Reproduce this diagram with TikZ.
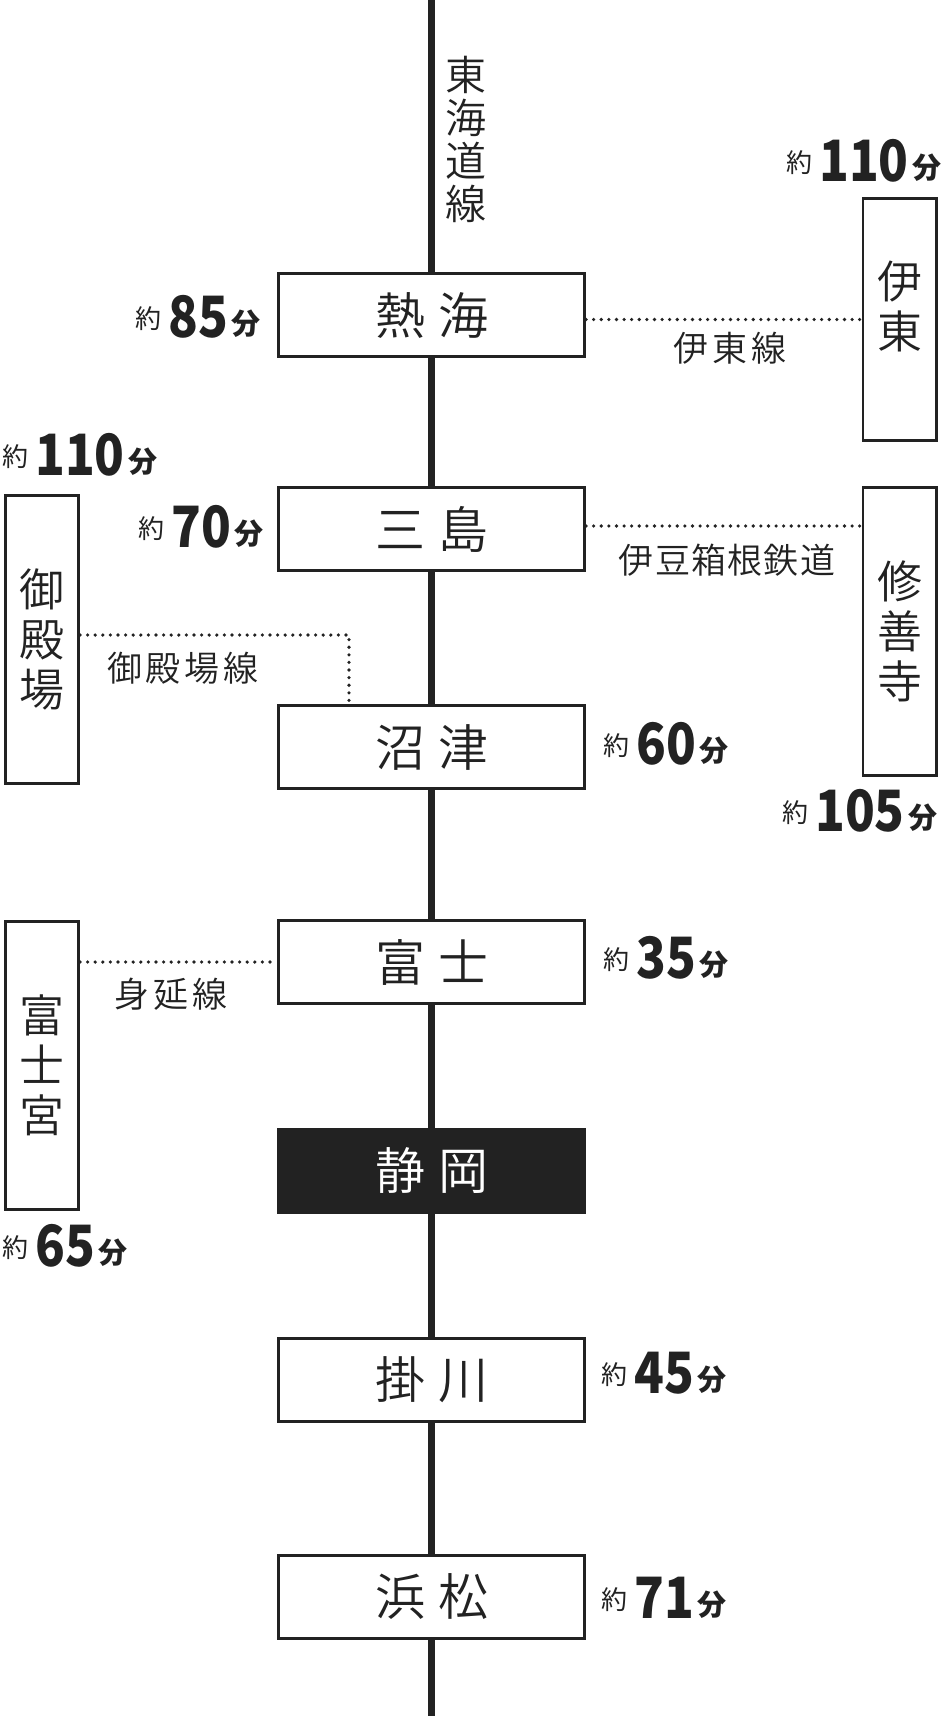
\documentclass[tikz,border=0pt]{standalone}
\usepackage{fontspec}
\setmainfont{Noto Sans CJK JP}
\newfontfamily\thinjp{Noto Sans CJK JP DemiLight}
\definecolor{ink}{HTML}{222222}
\newcommand\ls{\hspace{4pt}}
\newcommand\lsn{\hspace{1.3pt}}
\newcommand\stsp{\hspace{13pt}}
\newcommand\mins[1]{\raisebox{9pt}{\fontsize{26}{26}\selectfont 約}\hspace{7pt}\scalebox{0.86}[1]{\fontsize{57}{57}\selectfont\bfseries #1}\hspace{4pt}\raisebox{3pt}{\fontsize{29}{29}\selectfont\bfseries 分}}
\tikzset{
  station/.style={draw=ink, line width=2.6pt, fill=white, minimum width=306.5pt, minimum height=83.5pt, inner sep=0pt, font=\thinjp\fontsize{50}{50}\selectfont, text=ink},
  hub/.style={station, fill=ink, text=white},
  sidebox/.style={draw=ink, line width=2.6pt, fill=white, minimum width=73.4pt, inner sep=0pt, align=center, font=\thinjp\fontsize{45}{50}\selectfont, text=ink},
  vlabel/.style={inner sep=0pt, align=center, font=\thinjp\fontsize{41}{43}\selectfont, text=ink},
  branch/.style={draw=ink, line width=3.6pt, line cap=round, dash pattern=on 0pt off 7.6pt},
  trunk/.style={draw=ink, line width=7.5pt},
  linelabel/.style={inner sep=0pt, font=\thinjp\fontsize{35}{35}\selectfont, text=ink},
  timelabel/.style={anchor=base west, inner sep=0pt, text=ink},
}
\begin{document}
\begin{tikzpicture}[x=1pt, y=-1pt]
\fill[white] (0,0) rectangle (940,1716);
\useasboundingbox (0,0) rectangle (940,1716);

% stations on the trunk line
\node[station] (atami)     at (431.5,315)  {熱\stsp 海};
\node[station] (mishima)   at (431.5,529)  {三\stsp 島};
\node[station] (numazu)    at (431.5,747)  {沼\stsp 津};
\node[station] (fuji)      at (431.5,962)  {富\stsp 士};
\node[hub]     (shizuoka)  at (431.5,1171) {静\stsp 岡};
\node[station] (kakegawa)  at (431.5,1380) {掛\stsp 川};
\node[station] (hamamatsu) at (431.5,1597) {浜\stsp 松};

\coordinate (top) at (431.5,0);
\coordinate (bottom) at (431.5,1716);
\draw[trunk] (top) -- (atami);
\draw[trunk] (atami) -- (mishima);
\draw[trunk] (mishima) -- (numazu);
\draw[trunk] (numazu) -- (fuji);
\draw[trunk] (fuji) -- (shizuoka);
\draw[trunk] (shizuoka) -- (kakegawa);
\draw[trunk] (kakegawa) -- (hamamatsu);
\draw[trunk] (hamamatsu) -- (bottom);

\node[vlabel] (tokaido) at (465.5,139) {東\\海\\道\\線};

% branch terminals
\node[sidebox, minimum height=242.4pt] (ito) at (899.5,319.5) {};
\node[sidebox, draw=none, fill=none] (itotext) at ([yshift=13pt]ito.center) {伊\\東};
\node[sidebox, minimum height=288.4pt] (shuzenji) at (899.5,631.5) {修\\善\\寺};
\node[sidebox, minimum height=288.4pt] (gotemba) at (42,639.5) {御\\殿\\場};
\node[sidebox, minimum height=288.4pt] (fujinomiya) at (42,1065.5) {富\\士\\宮};

% branch lines
\draw[branch] (atami.east |- ito.west) -- (ito.west);
\draw[branch] ([yshift=3pt]mishima.east) -- ([yshift=3pt]mishima.east -| shuzenji.west);
\coordinate (gtcorner) at (349,635);
\draw[branch] (gotemba.east |- gtcorner) -- (gtcorner) -- (gtcorner |- numazu.north);
\draw[branch] (fujinomiya.east |- fuji.west) -- (fuji.west);

\node[linelabel] (itoline) at (730,348) {伊\ls 東\ls 線};
\node[linelabel] (izuline) at (727,560) {伊\lsn 豆\lsn 箱\lsn 根\lsn 鉄\lsn 道};
\node[linelabel] (gotline) at (183,668) {御\ls 殿\ls 場\ls 線};
\node[linelabel] (minline) at (171,994) {身\ls 延\ls 線};

% travel times
\node[timelabel] (t-ito)        at (786,181)  {\mins{110}};
\node[timelabel] (t-atami)      at (135,337)  {\mins{85}};
\node[timelabel] (t-gotemba)    at (2,475)    {\mins{110}};
\node[timelabel] (t-mishima)    at (138,547)  {\mins{70}};
\node[timelabel] (t-numazu)     at (603,764)  {\mins{60}};
\node[timelabel] (t-shuzenji)   at (782,831)  {\mins{105}};
\node[timelabel] (t-fuji)       at (603,978)  {\mins{35}};
\node[timelabel] (t-fujinomiya) at (2,1266)   {\mins{65}};
\node[timelabel] (t-kakegawa)   at (601,1393) {\mins{45}};
\node[timelabel] (t-hamamatsu)  at (601,1618) {\mins{71}};
\end{tikzpicture}
\end{document}
